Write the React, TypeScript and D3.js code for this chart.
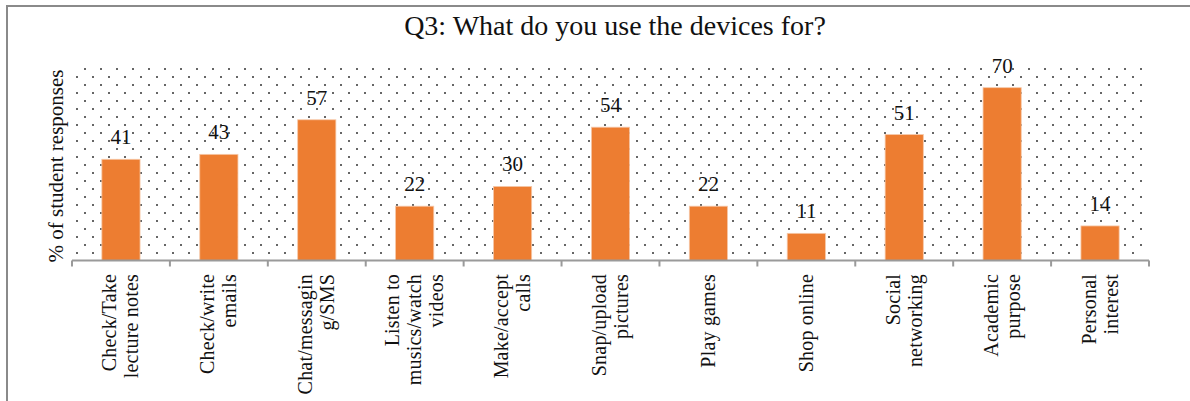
import React from "react";
import * as d3 from "d3";

const title = "Q3: What do you use the devices for?";
const yLabel = "% of student responses";
const categories: string[][] = [
  ["Check/Take", "lecture notes"],
  ["Check/write", "emails"],
  ["Chat/messagin", "g/SMS"],
  ["Listen to", "musics/watch", "videos"],
  ["Make/accept", "calls"],
  ["Snap/upload", "pictures"],
  ["Play games"],
  ["Shop online"],
  ["Social", "networking"],
  ["Academic", "purpose"],
  ["Personal", "interest"],
];
const values = [41, 43, 57, 22, 30, 54, 22, 11, 51, 70, 14];
const yDomain = [0, 80];

const W = 1190;
const H = 401;
const plot = { left: 72, right: 1149, top: 63, bottom: 260.5 };
const FONT = "'Liberation Serif', 'Times New Roman', serif";

export default function App() {
  const keys = categories.map((c) => c.join(" "));
  const x = d3
    .scaleBand<string>()
    .domain(keys)
    .range([plot.left, plot.right])
    .paddingInner(0.61)
    .paddingOuter(0.305);
  const y = d3.scaleLinear().domain(yDomain).range([plot.bottom, plot.top]);
  const step = x.step();
  const boundaries = d3.range(categories.length + 1).map((i) => plot.left + i * step);

  return (
    <svg
      width={W}
      height={H}
      style={{ position: "absolute", left: 0, top: 0, background: "#fff" }}
      fontFamily={FONT}
    >
      <defs>
        <pattern id="dots" patternUnits="userSpaceOnUse" x={0} y={0} width={16} height={16}>
          <rect x={4.2} y={4.2} width={1.6} height={1.6} fill="#111" />
          <rect x={12.2} y={12.2} width={1.6} height={1.6} fill="#111" />
        </pattern>
      </defs>
      <rect x={0} y={0} width={W} height={H} fill="#fff" />
      {/* outer border (only left & top visible) */}
      <rect x={7} y={6} width={W + 20} height={H + 20} fill="none" stroke="#8a8a8a" strokeWidth={2} />

      <text x={615} y={35} textAnchor="middle" fontSize={28} fill="#111">
        {title}
      </text>

      {/* patterned plot area */}
      <rect
        x={plot.left + 2}
        y={plot.top + 1}
        width={plot.right - plot.left - 4}
        height={plot.bottom - plot.top - 2}
        fill="url(#dots)"
      />

      {/* bars */}
      {values.map((v, i) => (
        <rect
          key={keys[i]}
          x={x(keys[i])!}
          y={y(v)}
          width={x.bandwidth()}
          height={y(0) - y(v)}
          fill="#ED7D31"
          stroke="#f6c8a8"
          strokeWidth={0.8}
        />
      ))}

      {/* value labels */}
      {values.map((v, i) => (
        <text
          key={"v" + i}
          x={x(keys[i])! + x.bandwidth() / 2}
          y={y(v) - 15}
          textAnchor="middle"
          fontSize={21}
          fill="#111"
        >
          {v}
        </text>
      ))}

      {/* x axis */}
      <line x1={plot.left} x2={plot.right} y1={plot.bottom} y2={plot.bottom} stroke="#9a9a9a" strokeWidth={2} />
      {boundaries.map((bx, i) => (
        <line key={"t" + i} x1={bx} x2={bx} y1={plot.bottom} y2={plot.bottom + 6} stroke="#9a9a9a" strokeWidth={2} />
      ))}

      {/* category labels */}
      {categories.map((lines, i) => {
        const cx = x(keys[i])! + x.bandwidth() / 2;
        const n = lines.length;
        return (
          <g key={"c" + i} transform={`translate(${cx},274) rotate(-90)`}>
            {lines.map((ln, j) => (
              <text
                key={j}
                x={0}
                y={(j - (n - 1) / 2) * 22 + 6.5}
                textAnchor="end"
                fontSize={20}
                letterSpacing={0.2}
                fill="#111"
              >
                {ln}
              </text>
            ))}
          </g>
        );
      })}

      {/* y label */}
      <text
        transform={`translate(63,166) rotate(-90)`}
        textAnchor="middle"
        fontSize={21}
        fill="#111"
      >
        {yLabel}
      </text>
    </svg>
  );
}
